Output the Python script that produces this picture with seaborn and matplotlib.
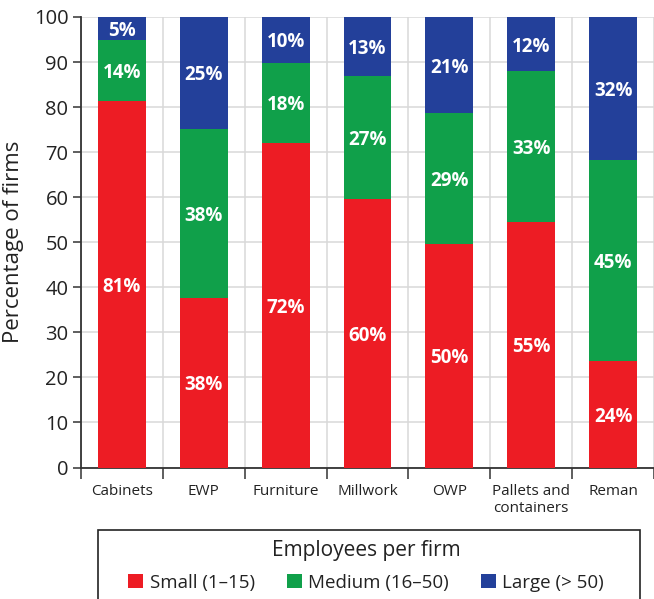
import matplotlib
matplotlib.use("Agg")
import matplotlib.pyplot as plt
from matplotlib.patches import Rectangle, Patch
from matplotlib.ticker import FixedLocator, NullFormatter
import numpy as np
import pandas as pd
import seaborn as sns

# Share of firms by size class in each sector (percent)
sectors = ["Cabinets", "EWP", "Furniture", "Millwork", "OWP",
           "Pallets and\ncontainers", "Reman"]
small = [81.3, 37.6, 72.1, 59.6, 49.7, 54.6, 23.6]
medium = [13.7, 37.6, 17.8, 27.3, 28.9, 33.4, 44.7]
large = [5.0, 24.8, 10.1, 13.1, 21.4, 12.0, 31.7]

size_names = ["Small (1\u201315)", "Medium (16\u201350)", "Large (> 50)"]
size_colors = ["#ED1C24", "#10A04A", "#23409A"]

df = pd.DataFrame({"sector": sectors, "small": small,
                   "medium": medium, "large": large})
df["top_small"] = df["small"]
df["top_medium"] = df["small"] + df["medium"]
df["top_large"] = df["top_medium"] + df["large"]

sns.set_theme(style="white")
plt.rcParams["font.family"] = ["Open Sans", "DejaVu Sans"]

fig = plt.figure(figsize=(6.54, 5.99), dpi=100)
ax = fig.add_axes([81 / 654, 1 - 467.5 / 599, 1 - 81 / 654, (467.5 - 17) / 599])

bar_w = 0.585
# stacked bars: draw cumulative totals from the top segment down
for col, color in zip(["top_large", "top_medium", "top_small"], size_colors[::-1]):
    sns.barplot(data=df, x="sector", y=col, color=color, saturation=1,
                width=bar_w, ax=ax, zorder=3, linewidth=0)

# white percentage labels centred in each segment
for i, row in df.iterrows():
    bottoms = [0, row["top_small"], row["top_medium"]]
    for val, b in zip([row["small"], row["medium"], row["large"]], bottoms):
        ax.text(i, b + val / 2, f"{val:.0f}%", ha="center", va="center_baseline",
                color="white", fontsize=13.5, fontweight="bold", zorder=4)

ax.set_xlim(-0.5, len(sectors) - 0.5)
ax.set_ylim(0, 100)
ax.set_yticks(np.arange(0, 101, 10))
ax.tick_params(axis="y", labelsize=14.5, direction="out", length=6, width=1.1,
               color="#333333", labelcolor="#222222", left=True, pad=3)

# category labels sit between the boundary ticks
ax.xaxis.set_major_locator(FixedLocator(np.arange(-0.5, len(sectors), 1.0)))
ax.xaxis.set_major_formatter(NullFormatter())
ax.xaxis.set_minor_locator(FixedLocator(np.arange(len(sectors))))
ax.set_xticklabels(sectors, minor=True)
ax.tick_params(axis="x", which="major", direction="out", length=8, width=1.1,
               color="#333333", bottom=True)
ax.tick_params(axis="x", which="minor", length=0, pad=12, labelsize=11,
               labelcolor="#222222")
for lab in ax.get_xticklabels(minor=True):
    lab.set_family(["Liberation Sans Narrow", "Open Sans", "DejaVu Sans"])
    lab.set_linespacing(1.15)
    lab.set_verticalalignment("top")

ax.grid(True, which="major", axis="both", color="#d9d9d9", linewidth=1.1, zorder=0)
ax.set_axisbelow(True)
for s in ["top", "right"]:
    ax.spines[s].set_visible(False)
for s in ["left", "bottom"]:
    ax.spines[s].set_color("#333333")
    ax.spines[s].set_linewidth(1.3)

ax.set_xlabel("")
ax.set_ylabel("Percentage of firms", fontsize=16, color="#222222", labelpad=7)

# legend with an open-bottomed frame
fig.patches.append(Rectangle((98 / 654, -0.05), (640 - 98) / 654,
                             0.05 + (599 - 530) / 599, transform=fig.transFigure,
                             fill=False, edgecolor="#222222", linewidth=1.2))
handles = [Patch(facecolor=c, edgecolor="none") for c in size_colors]
leg = fig.legend(handles, size_names, title="Employees per firm", ncol=3,
                 loc="upper center", bbox_to_anchor=(366 / 654, 1 - 527 / 599),
                 frameon=False, fontsize=13.5, title_fontsize=15,
                 handlelength=0.8, handleheight=0.8, handletextpad=0.35,
                 columnspacing=1.7, labelspacing=0.3, borderpad=0.2)
leg.get_title().set_color("#222222")
leg._legend_box.sep = 9
for t in leg.get_texts():
    t.set_color("#222222")

fig.savefig("out.png", dpi=100)
